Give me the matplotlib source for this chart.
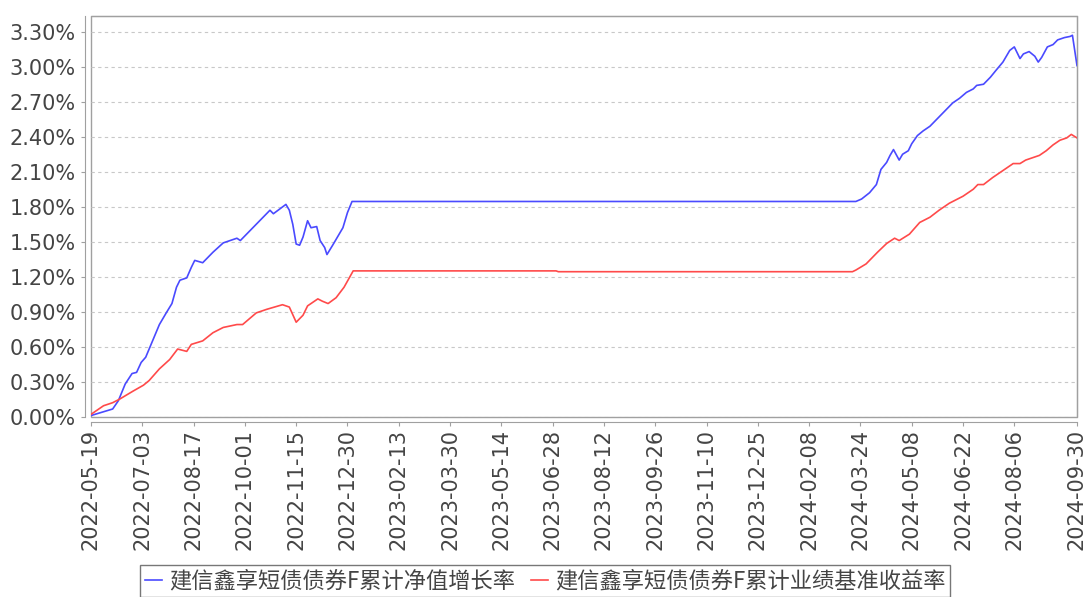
import pandas as pd
import matplotlib
matplotlib.use("Agg")
import matplotlib.pyplot as plt
import matplotlib.dates as mdates
from matplotlib.patches import Rectangle
from matplotlib.ticker import FuncFormatter, FixedLocator

plt.rcParams['font.family'] = ['DejaVu Sans', 'Noto Sans CJK SC']

# 累计净值增长率 (%)
nav_dates = ["2022-05-19", "2022-06-07", "2022-06-12", "2022-06-18", "2022-06-24", "2022-06-28",
             "2022-07-02", "2022-07-06", "2022-07-12", "2022-07-18", "2022-07-24", "2022-07-29",
             "2022-08-02", "2022-08-05", "2022-08-11", "2022-08-15", "2022-08-18", "2022-08-25",
             "2022-09-03", "2022-09-12", "2022-09-24", "2022-09-27", "2022-10-08", "2022-10-23",
             "2022-10-26", "2022-11-06", "2022-11-09", "2022-11-12", "2022-11-15", "2022-11-18",
             "2022-11-21", "2022-11-25", "2022-11-28", "2022-12-03", "2022-12-06", "2022-12-10",
             "2022-12-12", "2022-12-17", "2022-12-26", "2022-12-30", "2023-01-03", "2024-03-20",
             "2024-03-25", "2024-04-01", "2024-04-07", "2024-04-11", "2024-04-16", "2024-04-19",
             "2024-04-22", "2024-04-27", "2024-04-30", "2024-05-05", "2024-05-08", "2024-05-13",
             "2024-05-18", "2024-05-24", "2024-05-30", "2024-06-06", "2024-06-13", "2024-06-19",
             "2024-06-25", "2024-07-01", "2024-07-04", "2024-07-10", "2024-07-16", "2024-07-21",
             "2024-07-27", "2024-08-02", "2024-08-06", "2024-08-11", "2024-08-14", "2024-08-19",
             "2024-08-24", "2024-08-27", "2024-08-30", "2024-09-04", "2024-09-09", "2024-09-13",
             "2024-09-19", "2024-09-24", "2024-09-26", "2024-09-30"]
nav_values = [0.01, 0.066, 0.137, 0.28, 0.37, 0.38,
              0.465, 0.51, 0.65, 0.79, 0.89, 0.97,
              1.11, 1.17, 1.19, 1.28, 1.34, 1.32,
              1.41, 1.49, 1.53, 1.51, 1.62, 1.77,
              1.74, 1.82, 1.77, 1.65, 1.48, 1.47,
              1.54, 1.68, 1.62, 1.63, 1.51, 1.45,
              1.39, 1.47, 1.62, 1.75, 1.845, 1.845,
              1.866, 1.92, 1.99, 2.12, 2.18, 2.24,
              2.29, 2.20, 2.25, 2.28, 2.34, 2.41,
              2.45, 2.49, 2.55, 2.62, 2.69, 2.73,
              2.78, 2.81, 2.84, 2.85, 2.91, 2.97,
              3.04, 3.14, 3.17, 3.07, 3.11, 3.13,
              3.09, 3.04, 3.08, 3.17, 3.19, 3.23,
              3.25, 3.26, 3.27, 3.01]

# 累计业绩基准收益率 (%)
bench_dates = ["2022-05-19", "2022-05-30", "2022-06-07", "2022-06-13", "2022-06-25", "2022-07-04",
               "2022-07-09", "2022-07-18", "2022-07-27", "2022-08-03", "2022-08-11", "2022-08-15",
               "2022-08-25", "2022-09-03", "2022-09-12", "2022-09-24", "2022-09-29", "2022-10-11",
               "2022-10-20", "2022-11-03", "2022-11-09", "2022-11-15", "2022-11-21", "2022-11-25",
               "2022-12-04", "2022-12-08", "2022-12-13", "2022-12-20", "2022-12-27", "2023-01-04",
               "2023-07-01", "2023-07-03", "2024-03-17", "2024-03-20", "2024-03-29", "2024-04-08",
               "2024-04-16", "2024-04-23", "2024-04-27", "2024-05-06", "2024-05-15", "2024-05-24",
               "2024-06-01", "2024-06-10", "2024-06-22", "2024-07-01", "2024-07-05", "2024-07-10",
               "2024-07-18", "2024-07-27", "2024-08-05", "2024-08-11", "2024-08-16", "2024-08-28",
               "2024-09-03", "2024-09-09", "2024-09-15", "2024-09-21", "2024-09-25", "2024-09-30"]
bench_values = [0.02, 0.094, 0.12, 0.15, 0.22, 0.27,
                0.31, 0.41, 0.49, 0.58, 0.56, 0.62,
                0.65, 0.72, 0.765, 0.79, 0.79, 0.89,
                0.92, 0.96, 0.94, 0.81, 0.87, 0.95,
                1.01, 0.99, 0.97, 1.02, 1.11, 1.25,
                1.25, 1.243, 1.243, 1.257, 1.31, 1.41,
                1.485, 1.53, 1.51, 1.565, 1.665, 1.71,
                1.77, 1.83, 1.89, 1.95, 1.99, 1.99,
                2.05, 2.11, 2.17, 2.17, 2.20, 2.24,
                2.28, 2.33, 2.37, 2.39, 2.42, 2.39]

labels = ["建信鑫享短债债券F累计净值增长率", "建信鑫享短债债券F累计业绩基准收益率"]
start, end = "2022-05-19", "2024-09-30"

fig = plt.figure(figsize=(10.88, 5.97), dpi=100)
ax = fig.add_axes([91 / 1088, 1 - 416.7 / 597, (1077 - 91) / 1088, (416.7 - 16) / 597])

ax.plot(pd.to_datetime(nav_dates), nav_values, color="#4a4aff", lw=1.2, label=labels[0])
ax.plot(pd.to_datetime(bench_dates), bench_values, color="#ff4a4a", lw=1.2, label=labels[1])

ax.set_xlim(pd.Timestamp(start), pd.Timestamp(end))
ax.set_ylim(0, 3.435)

yt = [i * 0.3 for i in range(12)]
ax.yaxis.set_major_locator(FixedLocator(yt))
ax.yaxis.set_major_formatter(FuncFormatter(lambda v, p: f"{v:.2f}%"))
ax.grid(axis="y", color="#c8c8c8", ls=(0, (3, 3)), lw=0.8)

xt = list(pd.date_range(start, periods=19, freq="45D")) + [pd.Timestamp(end)]
ax.set_xticks(xt)
ax.xaxis.set_major_formatter(mdates.DateFormatter("%Y-%m-%d"))

for s in ["left", "bottom"]:
    ax.spines[s].set_position(("outward", 4))
for s in ax.spines.values():
    s.set_color("#a0a0a0")
ax.add_patch(Rectangle((0, 0), 1, 1, transform=ax.transAxes, fill=False,
                       edgecolor="#a0a0a0", lw=1, clip_on=False))
ax.tick_params(axis="both", colors="#a0a0a0", labelcolor="#444444", labelsize=15, length=3)
ax.tick_params(axis="y", pad=4)
ax.tick_params(axis="x", pad=2, labelrotation=90)

leg = fig.legend(loc="upper center", bbox_to_anchor=(0.501, 1 - 565 / 597), ncol=2,
                 prop={"family": ["Noto Sans CJK SC", "DejaVu Sans"], "size": 16},
                 frameon=True, fancybox=False, edgecolor="#555555", handlelength=0.8,
                 handletextpad=0.3, columnspacing=0.7, borderpad=0.2, borderaxespad=0)
leg.get_frame().set_linewidth(1)
for t in leg.get_texts():
    t.set_color("#444444")

fig.savefig("out.png", dpi=100)
